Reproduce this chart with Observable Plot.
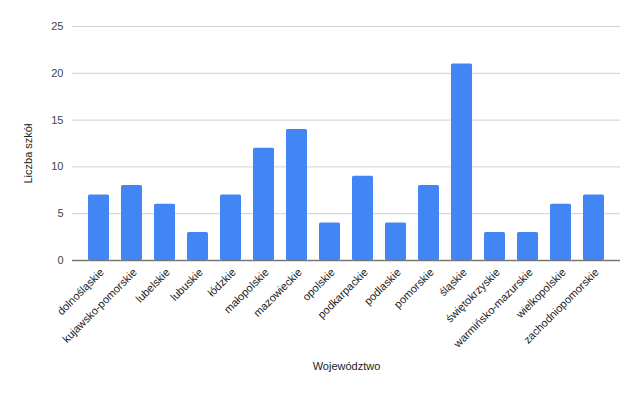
<!DOCTYPE html>
<html>
<head>
<meta charset="utf-8">
<script src="https://cdn.jsdelivr.net/npm/d3@7"></script>
<script src="https://cdn.jsdelivr.net/npm/@observablehq/plot@0.6"></script>
<style>
  html, body { margin: 0; padding: 0; background: #fff; }
  svg { display: block; }
</style>
</head>
<body>
<div id="chart"></div>
<script>
const voivodeships = ["dolnośląskie","kujawsko-pomorskie","lubelskie","lubuskie","łódzkie","małopolskie","mazowieckie","opolskie","podkarpackie","podlaskie","pomorskie","śląskie","świętokrzyskie","warmińsko-mazurskie","wielkopolskie","zachodniopomorskie"];
const schools = [7, 8, 6, 3, 7, 12, 14, 4, 9, 4, 8, 21, 3, 3, 6, 7];
const yTicks = [0, 5, 10, 15, 20, 25];
const xTitle = "Województwo";
const yTitle = "Liczba szkół";

const data = voivodeships.map((v, i) => ({v, n: schools[i]}));

const chart = Plot.plot({
  width: 640,
  height: 395,
  marginLeft: 72,
  marginRight: 20,
  marginTop: 26,
  marginBottom: 135,
  style: {fontFamily: "Arial, 'Liberation Sans', sans-serif", fontSize: "11px", color: "#444", background: "#fff"},
  x: {domain: voivodeships, range: [85, 607.5], paddingInner: 0.372, paddingOuter: 0, label: null},
  y: {domain: [0, 25], label: null},
  marks: [
    Plot.ruleY(yTicks.filter(d => d > 0), {stroke: "#d0d0d0", strokeWidth: 1}),
    Plot.barY(data, {x: "v", y: "n", fill: "#4285f4", rx: 1.5}),
    Plot.ruleY([0], {stroke: "#777", strokeWidth: 1.5}),
    Plot.axisY({ticks: yTicks, tickSize: 0, tickPadding: 9, label: null, fontSize: 11, fill: "#444"}),
    Plot.axisX({tickSize: 0, tickRotate: -45, tickPadding: 10, dx: 3, label: null, fontSize: 11, fill: "#222"}),
    Plot.text([yTitle], {frameAnchor: "left", dx: -44, dy: 40, rotate: -90, text: d => d, fontSize: 11, fill: "#222"}),
    Plot.text([xTitle], {frameAnchor: "bottom", dy: 109, text: d => d, fontSize: 11, fill: "#222"})
  ]
});
document.getElementById("chart").appendChild(chart);
</script>
</body>
</html>
